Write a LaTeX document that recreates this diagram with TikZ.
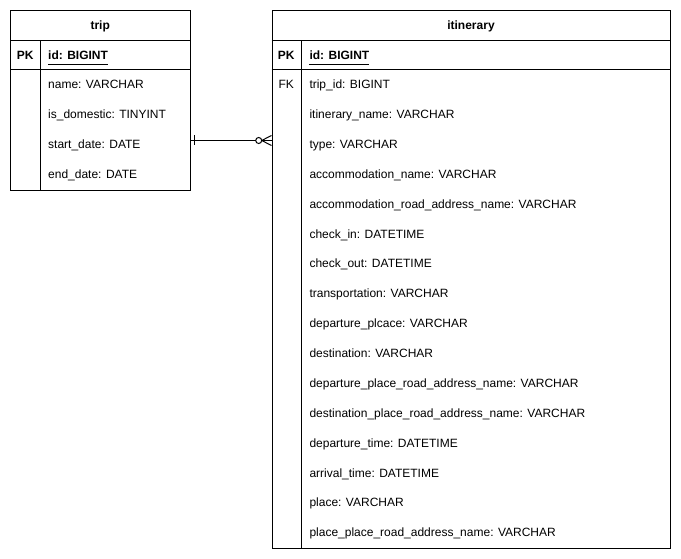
\documentclass[tikz,border=0pt]{standalone}
\usepackage{fontspec}
\setmainfont{Liberation Sans}
\usetikzlibrary{calc}
\begin{document}
\begin{tikzpicture}[x=1pt,y=-1pt,
  every node/.style={font=\fontsize{12}{14}\selectfont},
  tablebox/.style={draw=black,line width=1pt,inner sep=0pt,anchor=north west},
  rule/.style={draw=black,line width=1pt},
  field/.style={anchor=base west,inner sep=0pt},
  keytxt/.style={anchor=base,inner sep=0pt},
  hdr/.style={anchor=base,inner sep=0pt,font=\fontsize{12}{14}\selectfont\bfseries},
  rel/.style={draw=black,line width=1pt}]
\useasboundingbox (0,0) rectangle (681,559);
\fill[white] (0,0) rectangle (681,559);

% ---- trip table
\node[tablebox,minimum width=180.3pt,minimum height=180.3pt] (trip) at (10,10) {};
\draw[rule] (10,40.5) -- (190.3,40.5);
\draw[rule] (10,70) -- (190.3,70);
\draw[rule] (40.5,40.5) -- (40.5,190.3);
\node[hdr] (trip-h) at (100.2,29.5) {trip};
\node[hdr] (trip-pk) at (25.3,60) {PK};
\node[field,font=\fontsize{12}{14}\selectfont\bfseries] (trip-id) at (48,60) {id: BIGINT};
\draw[rule] ([yshift=-4.3pt]trip-id.base west) -- ([yshift=-4.3pt]trip-id.base east);
\foreach \t [count=\i] in {name: VARCHAR, is\_domestic: TINYINT, start\_date: DATE, end\_date: DATE}
  \node[field] (trip-f\i) at (48,{70+30*(\i-0.5)+3.8}) {\t};

% ---- itinerary table
\node[tablebox,minimum width=398.8pt,minimum height=538pt] (itin) at (271.5,10) {};
\draw[rule] (271.5,40.5) -- (670.3,40.5);
\draw[rule] (271.5,70) -- (670.3,70);
\draw[rule] (301.3,40.5) -- (301.3,548);
\node[hdr] (itin-h) at (471,29.5) {itinerary};
\node[hdr] (itin-pk) at (286.3,60) {PK};
\node[field,font=\fontsize{12}{14}\selectfont\bfseries] (itin-id) at (309.3,60) {id: BIGINT};
\draw[rule] ([yshift=-4.3pt]itin-id.base west) -- ([yshift=-4.3pt]itin-id.base east);
\node[keytxt] (itin-fk) at (286.3,88.5) {FK};
\foreach \t [count=\i] in {trip\_id: BIGINT, itinerary\_name: VARCHAR, type: VARCHAR,
  accommodation\_name: VARCHAR, accommodation\_road\_address\_name: VARCHAR,
  check\_in: DATETIME, check\_out: DATETIME, transportation: VARCHAR,
  departure\_plcace: VARCHAR, destination: VARCHAR,
  departure\_place\_road\_address\_name: VARCHAR,
  destination\_place\_road\_address\_name: VARCHAR,
  departure\_time: DATETIME, arrival\_time: DATETIME, place: VARCHAR,
  place\_place\_road\_address\_name: VARCHAR}
  \node[field] (itin-f\i) at (309.3,{70+29.875*(\i-0.5)+3.8}) {\t};

% ---- relationship trip (one) -- itinerary (zero or many)
\coordinate (ra) at ([yshift=-39.85pt]trip.east);
\coordinate (rb) at (ra -| itin.west);
\draw[rel] (ra) -- ([xshift=-15.8pt]rb);
\draw[rel] ([xshift=3.3pt,yshift=5pt]ra) -- ([xshift=3.3pt,yshift=-5pt]ra);
\draw[rel] ([xshift=-12.8pt]rb) circle (3pt);
\draw[rel] ([xshift=-9.8pt]rb) -- (rb);
\draw[rel] ([xshift=-9.8pt]rb) -- ([yshift=5pt]rb);
\draw[rel] ([xshift=-9.8pt]rb) -- ([yshift=-5pt]rb);
\end{tikzpicture}
\end{document}
